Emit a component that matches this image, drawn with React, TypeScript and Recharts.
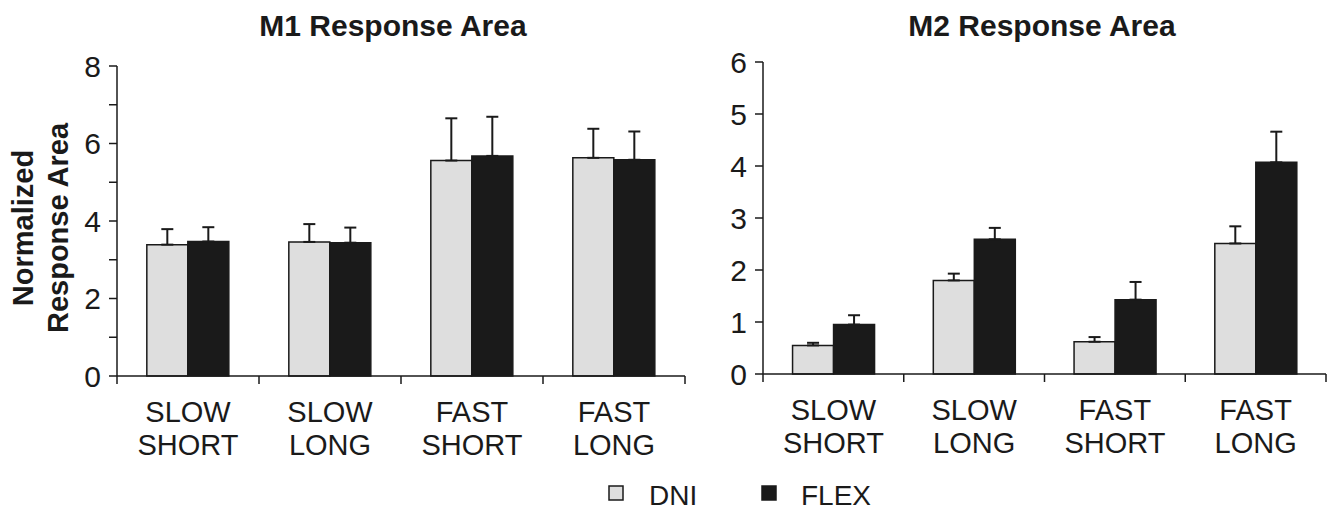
import { BarChart, Bar, XAxis, YAxis, ErrorBar } from "recharts";

const FONT = "'Liberation Sans', Arial, Helvetica, sans-serif";
const INK = "#1a1a1a";
const DNI_FILL = "#dedede";

// conditions along the x axis (two-line labels)
const conditions = ["SLOW SHORT", "SLOW LONG", "FAST SHORT", "FAST LONG"];

// M1 response area (mean and upper error)
const m1Dni = [3.39, 3.46, 5.56, 5.63];
const m1DniErr = [0.4, 0.46, 1.09, 0.75];
const m1Flex = [3.47, 3.44, 5.68, 5.58];
const m1FlexErr = [0.37, 0.39, 1.01, 0.73];

// M2 response area
const m2Dni = [0.55, 1.8, 0.62, 2.51];
const m2DniErr = [0.05, 0.13, 0.09, 0.33];
const m2Flex = [0.95, 2.59, 1.43, 4.07];
const m2FlexErr = [0.18, 0.22, 0.34, 0.59];

const m1Ticks = [0, 1, 2, 3, 4, 5, 6, 7, 8];
const m2Ticks = [0, 1, 2, 3, 4, 5, 6];

function buildRows(dni: number[], dniErr: number[], flex: number[], flexErr: number[]) {
  return conditions.map((name, i) => ({
    name,
    dni: dni[i],
    flex: flex[i],
    dniErr: [0, dniErr[i]],
    flexErr: [0, flexErr[i]],
  }));
}

const m1Rows = buildRows(m1Dni, m1DniErr, m1Flex, m1FlexErr);
const m2Rows = buildRows(m2Dni, m2DniErr, m2Flex, m2FlexErr);

function CategoryTick(props: any) {
  const { x, y, payload, index, half } = props;
  const h = payload && payload.offset ? payload.offset : half;
  const [l1, l2] = String(payload.value).split(" ");
  const isLast = index === conditions.length - 1;
  return (
    <g>
      <line x1={x - h} x2={x - h} y1={y} y2={y + 8} stroke={INK} strokeWidth={1.5} />
      {isLast && (
        <line x1={x + h} x2={x + h} y1={y} y2={y + 8} stroke={INK} strokeWidth={1.5} />
      )}
      <text x={x} y={y + 46} textAnchor="middle" fontSize={29} fill={INK} fontFamily={FONT}>
        {l1}
      </text>
      <text x={x} y={y + 79} textAnchor="middle" fontSize={29} fill={INK} fontFamily={FONT}>
        {l2}
      </text>
    </g>
  );
}

function ValueTick(props: any) {
  const { x, y, payload, every } = props;
  if (payload.value % every !== 0) return <g />;
  return (
    <text x={x} y={y} dy="0.355em" textAnchor="end" fontSize={30} fill={INK} fontFamily={FONT}>
      {payload.value}
    </text>
  );
}

interface PanelProps {
  rows: any[];
  ticks: number[];
  every: number;
  width: number;
  yAxisWidth: number;
  margin: { top: number; right: number; left: number; bottom: number };
}

function Panel({ rows, ticks, every, width, yAxisWidth, margin }: PanelProps) {
  const half = (width - yAxisWidth - margin.right - margin.left) / conditions.length / 2;
  return (
    <BarChart
      width={width}
      height={512}
      data={rows}
      margin={margin}
      barCategoryGap="21%"
      barGap={0}
    >
      <XAxis
        dataKey="name"
        interval={0}
        height={96}
        tickLine={false}
        tickSize={0}
        tickMargin={0}
        axisLine={{ stroke: INK, strokeWidth: 1.5 }}
        tick={(p: any) => <CategoryTick {...p} half={half} />}
      />
      <YAxis
        width={yAxisWidth}
        domain={[0, ticks[ticks.length - 1]]}
        ticks={ticks}
        interval={0}
        tickSize={8}
        tickMargin={8}
        axisLine={{ stroke: INK, strokeWidth: 1.5 }}
        tickLine={{ stroke: INK, strokeWidth: 1.5 }}
        tick={(p: any) => <ValueTick {...p} every={every} />}
      />
      <Bar dataKey="dni" fill={DNI_FILL} stroke={INK} strokeWidth={1.5} isAnimationActive={false}>
        <ErrorBar dataKey="dniErr" direction="y" width={6} stroke={INK} strokeWidth={2} />
      </Bar>
      <Bar dataKey="flex" fill={INK} stroke={INK} strokeWidth={1.5} isAnimationActive={false}>
        <ErrorBar dataKey="flexErr" direction="y" width={6} stroke={INK} strokeWidth={2} />
      </Bar>
    </BarChart>
  );
}

export default function App() {
  return (
    <div
      style={{
        position: "absolute",
        left: 0,
        top: 0,
        width: 1336,
        height: 512,
        background: "#fff",
        fontFamily: FONT,
      }}
    >
      <div style={{ position: "absolute", left: 0, top: 0 }}>
        <Panel
          rows={m1Rows}
          ticks={m1Ticks}
          every={2}
          width={700}
          yAxisWidth={117}
          margin={{ top: 66, right: 15, left: 0, bottom: 40 }}
        />
      </div>
      <div style={{ position: "absolute", left: 700, top: 0 }}>
        <Panel
          rows={m2Rows}
          ticks={m2Ticks}
          every={1}
          width={636}
          yAxisWidth={63}
          margin={{ top: 62, right: 10, left: 0, bottom: 42 }}
        />
      </div>
      <svg
        width={1336}
        height={512}
        style={{ position: "absolute", left: 0, top: 0, pointerEvents: "none" }}
        fontFamily={FONT}
        fill={INK}
      >
        <text x={393} y={36} textAnchor="middle" fontSize={30} fontWeight="bold">
          M1 Response Area
        </text>
        <text x={1042} y={36} textAnchor="middle" fontSize={30} fontWeight="bold">
          M2 Response Area
        </text>
        <text x={33} y={228} transform="rotate(-90 33 228)" textAnchor="middle" fontSize={29} fontWeight="bold">
          Normalized
        </text>
        <text x={68} y={228} transform="rotate(-90 68 228)" textAnchor="middle" fontSize={29} fontWeight="bold">
          Response Area
        </text>
        <rect x={609} y={486} width={14} height={14} fill={DNI_FILL} stroke={INK} strokeWidth={1.5} />
        <text x={649} y={505} fontSize={28}>DNI</text>
        <rect x={762} y={486} width={14} height={14} fill={INK} stroke={INK} strokeWidth={1.5} />
        <text x={801} y={505} fontSize={28}>FLEX</text>
      </svg>
    </div>
  );
}
